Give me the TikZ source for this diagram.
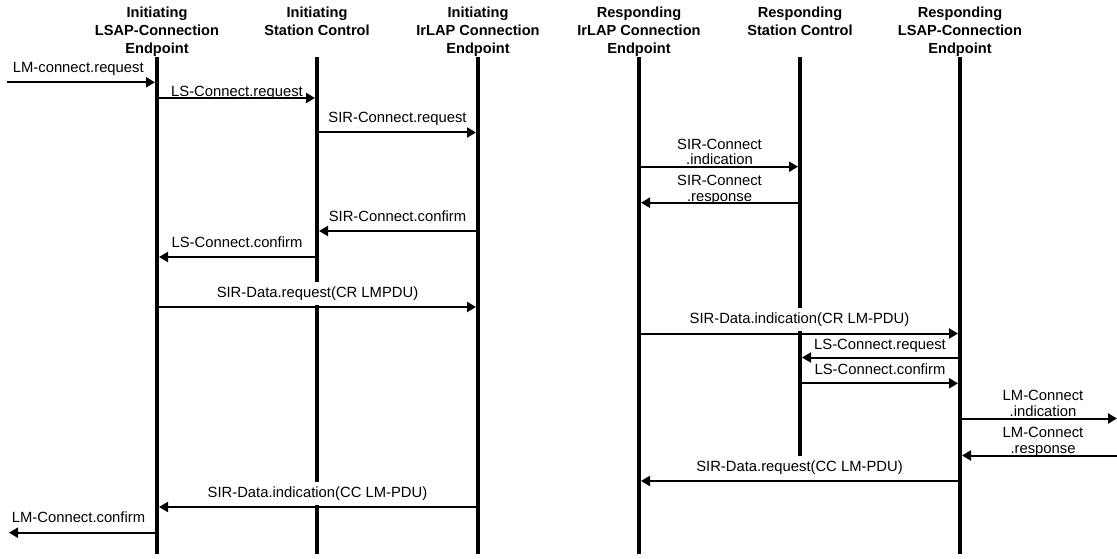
\documentclass[tikz,border=0pt]{standalone}
\usepackage{fontspec}
\setmainfont{Liberation Sans}
\usetikzlibrary{arrows.meta}
\tikzset{
  lifeline/.style={line width=4pt},
  msg/.style={line width=2pt,-{Triangle[length=9pt,width=10pt]},shorten >=2pt},
  msgedge/.style={line width=2pt,-{Triangle[length=9pt,width=10pt]}},
  lbl/.style={font=\fontsize{14.8}{16}\selectfont,anchor=base,fill=white,inner xsep=1pt,inner ysep=4.5pt,text height=11pt,text depth=3pt},
  lblw/.style={lbl,anchor=base west},
  lbltwo/.style={font=\fontsize{14.8}{16}\selectfont,anchor=base,inner sep=0pt},
  head/.style={font=\bfseries\fontsize{14.6}{18}\selectfont,anchor=base,inner sep=0pt}
}
\newcommand{\twoline}[2]{\begin{tabular}[b]{@{}c@{}}#1\\#2\end{tabular}}
\newcommand{\threeline}[3]{\begin{tabular}[t]{@{}c@{}}#1\\#2\\#3\end{tabular}}
\begin{document}
\begin{tikzpicture}[x=1pt,y=-1pt]
\useasboundingbox (0,0) rectangle (1117,559);
% headers
\node[head] (h1) at (157,18) {\threeline{Initiating}{LSAP-Connection}{Endpoint}};
\node[head] (h2) at (317,18) {\threeline{Initiating}{Station Control}{}};
\node[head] (h3) at (478,18) {\threeline{Initiating}{IrLAP Connection}{Endpoint}};
\node[head] (h4) at (639,18) {\threeline{Responding}{IrLAP Connection}{Endpoint}};
\node[head] (h5) at (800,18) {\threeline{Responding}{Station Control}{}};
\node[head] (h6) at (960,18) {\threeline{Responding}{LSAP-Connection}{Endpoint}};
% lifelines
\coordinate (a1) at (157,57); \coordinate (b1) at (157,554);
\coordinate (a2) at (317,57); \coordinate (b2) at (317,554);
\coordinate (a3) at (478,57); \coordinate (b3) at (478,554);
\coordinate (a4) at (639,57); \coordinate (b4) at (639,554);
\coordinate (a5) at (800,57); \coordinate (b5) at (800,473);
\coordinate (a6) at (960,57); \coordinate (b6) at (960,554);
\foreach \i in {1,...,6} {\draw[lifeline] (a\i) -- (b\i);}
% labels
\node[lblw] (t1) at (11.7,72.7) {LM-connect.request};
\node[lbl] (t2) at (237,97) {LS-Connect.request};
\node[lbl] (t3) at (397.5,123) {SIR-Connect.request};
\node[lbltwo] (t4) at (719.5,165) {\twoline{SIR-Connect}{.indication}};
\node[lbltwo] (t5) at (719.5,201) {\twoline{SIR-Connect}{.response}};
\node[lbl] (t6) at (397.5,221) {SIR-Connect.confirm};
\node[lbl] (t7) at (237,247) {LS-Connect.confirm};
\node[lbl] (t8) at (317.5,297.3) {SIR-Data.request(CR LMPDU)};
\node[lbl] (t9) at (799.5,323.5) {SIR-Data.indication(CR LM-PDU)};
\node[lbl] (t10) at (880,349) {LS-Connect.request};
\node[lbl] (t11) at (880,374) {LS-Connect.confirm};
\node[lbltwo] (t12) at (1043,416.7) {\twoline{LM-Connect}{.indication}};
\node[lbltwo] (t13) at (1043,453) {\twoline{LM-Connect}{.response}};
\node[lbl] (t14) at (799.5,471.7) {SIR-Data.request(CC LM-PDU)};
\node[lbl] (t15) at (317.5,497.3) {SIR-Data.indication(CC LM-PDU)};
\node[lblw] (t16) at (10.7,522.7) {LM-Connect.confirm};
% message end points
\coordinate (e0) at (7,82.3);   \coordinate (e1) at (157,82.3);
\coordinate (p1) at (157,98);   \coordinate (p2) at (317,98);
\coordinate (q2) at (317,132.5);\coordinate (q3) at (478,132.5);
\coordinate (r4) at (639,166.7);\coordinate (r5) at (800,166.7);
\coordinate (s5) at (800,202.7);\coordinate (s4) at (639,202.7);
\coordinate (u3) at (478,231);  \coordinate (u2) at (317,231);
\coordinate (v2) at (317,257);  \coordinate (v1) at (157,257);
\coordinate (w1) at (157,307);  \coordinate (w3) at (478,307);
\coordinate (x4) at (639,333.5);\coordinate (x6) at (960,333.5);
\coordinate (y6) at (960,357.5);\coordinate (y5) at (800,357.5);
\coordinate (z5) at (800,383.3);\coordinate (z6) at (960,383.3);
\coordinate (f6) at (960,418.5);\coordinate (fe) at (1117,418.5);
\coordinate (ge) at (1117,455.5);\coordinate (g6) at (960,455.5);
\coordinate (k6) at (960,481);  \coordinate (k4) at (639,481);
\coordinate (m3) at (478,507);  \coordinate (m1) at (157,507);
\coordinate (n1) at (157,532.7);\coordinate (n0) at (9,532.7);
% messages
\draw[msg] (e0) -- (e1);
\draw[msg] (p1) -- (p2);
\draw[msg] (q2) -- (q3);
\draw[msg] (r4) -- (r5);
\draw[msg] (s5) -- (s4);
\draw[msg] (u3) -- (u2);
\draw[msg] (v2) -- (v1);
\draw[msg] (w1) -- (w3);
\draw[msg] (x4) -- (x6);
\draw[msg] (y6) -- (y5);
\draw[msg] (z5) -- (z6);
\draw[msgedge] (f6) -- (fe);
\draw[msg] (ge) -- (g6);
\draw[msg] (k6) -- (k4);
\draw[msg] (m3) -- (m1);
\draw[msgedge] (n1) -- (n0);
\end{tikzpicture}
\end{document}
